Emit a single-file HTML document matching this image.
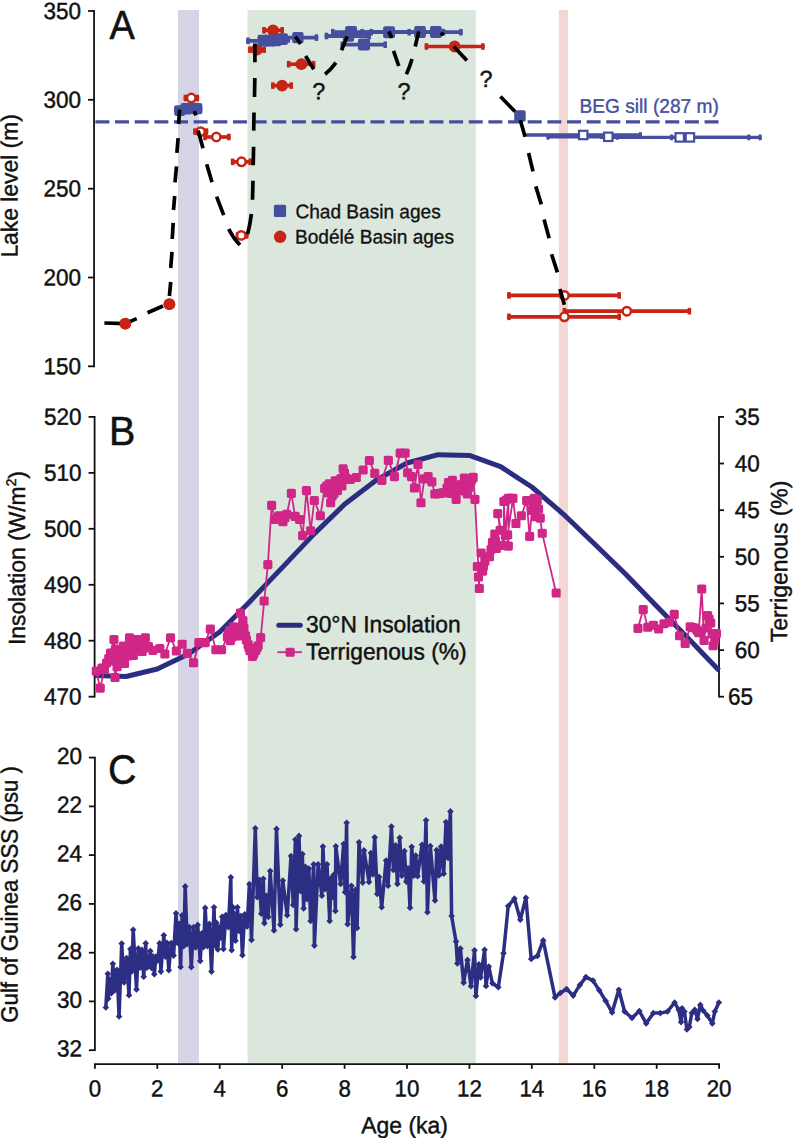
<!DOCTYPE html>
<html><head><meta charset="utf-8"><title>Lake Mega-Chad</title>
<style>html,body{margin:0;padding:0;background:#fff}svg{display:block}text{font-family:"Liberation Sans",Arial,sans-serif;fill:#111;stroke:#111}</style></head><body>
<svg width="793" height="1138" viewBox="0 0 793 1138">
<rect width="793" height="1138" fill="#fff"/>
<rect x="178" y="10" width="21" height="1053.5" fill="#d5d5e6"/>
<rect x="247.5" y="10" width="228.3" height="1053.5" fill="#dbe7dc"/>
<rect x="558.8" y="10" width="9.200000000000045" height="1053.5" fill="#f4d6d5"/>
<path d="M94.05 10.1V367.2" stroke="#111" stroke-width="1.8" fill="none"/>
<path d="M88.05 11.0H94.05" stroke="#111" stroke-width="1.8" fill="none"/>
<text transform="translate(43.52 18.90) rotate(0.03) scale(0.2340)" font-size="100" stroke-width="1.92" textLength="160.4" lengthAdjust="spacingAndGlyphs">350</text>
<path d="M88.05 99.8H94.05" stroke="#111" stroke-width="1.8" fill="none"/>
<text transform="translate(43.52 107.73) rotate(0.03) scale(0.2340)" font-size="100" stroke-width="1.92" textLength="160.4" lengthAdjust="spacingAndGlyphs">300</text>
<path d="M88.05 188.7H94.05" stroke="#111" stroke-width="1.8" fill="none"/>
<text transform="translate(43.52 196.55) rotate(0.03) scale(0.2340)" font-size="100" stroke-width="1.92" textLength="160.4" lengthAdjust="spacingAndGlyphs">250</text>
<path d="M88.05 277.5H94.05" stroke="#111" stroke-width="1.8" fill="none"/>
<text transform="translate(43.52 285.38) rotate(0.03) scale(0.2340)" font-size="100" stroke-width="1.92" textLength="160.4" lengthAdjust="spacingAndGlyphs">200</text>
<path d="M88.05 366.3H94.05" stroke="#111" stroke-width="1.8" fill="none"/>
<text transform="translate(43.52 374.20) rotate(0.03) scale(0.2340)" font-size="100" stroke-width="1.92" textLength="160.4" lengthAdjust="spacingAndGlyphs">150</text>
<path d="M94.6 416.0V697.6" stroke="#111" stroke-width="1.8" fill="none"/>
<path d="M88.6 416.9H94.6" stroke="#111" stroke-width="1.8" fill="none"/>
<text transform="translate(44.07 424.80) rotate(0.03) scale(0.2340)" font-size="100" stroke-width="1.92" textLength="160.4" lengthAdjust="spacingAndGlyphs">520</text>
<path d="M88.6 472.9H94.6" stroke="#111" stroke-width="1.8" fill="none"/>
<text transform="translate(44.07 480.76) rotate(0.03) scale(0.2340)" font-size="100" stroke-width="1.92" textLength="160.4" lengthAdjust="spacingAndGlyphs">510</text>
<path d="M88.6 528.8H94.6" stroke="#111" stroke-width="1.8" fill="none"/>
<text transform="translate(44.07 536.72) rotate(0.03) scale(0.2340)" font-size="100" stroke-width="1.92" textLength="160.4" lengthAdjust="spacingAndGlyphs">500</text>
<path d="M88.6 584.8H94.6" stroke="#111" stroke-width="1.8" fill="none"/>
<text transform="translate(44.07 592.68) rotate(0.03) scale(0.2340)" font-size="100" stroke-width="1.92" textLength="160.4" lengthAdjust="spacingAndGlyphs">490</text>
<path d="M88.6 640.7H94.6" stroke="#111" stroke-width="1.8" fill="none"/>
<text transform="translate(44.07 648.64) rotate(0.03) scale(0.2340)" font-size="100" stroke-width="1.92" textLength="160.4" lengthAdjust="spacingAndGlyphs">480</text>
<path d="M88.6 696.7H94.6" stroke="#111" stroke-width="1.8" fill="none"/>
<text transform="translate(44.07 704.60) rotate(0.03) scale(0.2340)" font-size="100" stroke-width="1.92" textLength="160.4" lengthAdjust="spacingAndGlyphs">470</text>
<path d="M719 416.0V697.6" stroke="#111" stroke-width="1.8" fill="none"/>
<path d="M719 416.9H724" stroke="#111" stroke-width="1.8" fill="none"/>
<text transform="translate(734.80 424.80) rotate(0.03) scale(0.2340)" font-size="100" stroke-width="1.92" textLength="106.9" lengthAdjust="spacingAndGlyphs">35</text>
<path d="M719 463.5H724" stroke="#111" stroke-width="1.8" fill="none"/>
<text transform="translate(734.80 471.43) rotate(0.03) scale(0.2340)" font-size="100" stroke-width="1.92" textLength="106.9" lengthAdjust="spacingAndGlyphs">40</text>
<path d="M719 510.2H724" stroke="#111" stroke-width="1.8" fill="none"/>
<text transform="translate(734.80 518.07) rotate(0.03) scale(0.2340)" font-size="100" stroke-width="1.92" textLength="106.9" lengthAdjust="spacingAndGlyphs">45</text>
<path d="M719 556.8H724" stroke="#111" stroke-width="1.8" fill="none"/>
<text transform="translate(734.80 564.70) rotate(0.03) scale(0.2340)" font-size="100" stroke-width="1.92" textLength="106.9" lengthAdjust="spacingAndGlyphs">50</text>
<path d="M719 603.4H724" stroke="#111" stroke-width="1.8" fill="none"/>
<text transform="translate(734.80 611.33) rotate(0.03) scale(0.2340)" font-size="100" stroke-width="1.92" textLength="106.9" lengthAdjust="spacingAndGlyphs">55</text>
<path d="M719 650.1H724" stroke="#111" stroke-width="1.8" fill="none"/>
<text transform="translate(734.80 657.97) rotate(0.03) scale(0.2340)" font-size="100" stroke-width="1.92" textLength="106.9" lengthAdjust="spacingAndGlyphs">60</text>
<path d="M719 696.7H724" stroke="#111" stroke-width="1.8" fill="none"/>
<text transform="translate(727.90 704.60) rotate(0.03) scale(0.2340)" font-size="100" stroke-width="1.92" textLength="106.9" lengthAdjust="spacingAndGlyphs">65</text>
<path d="M94.9 756.7V1051.1000000000001" stroke="#111" stroke-width="1.8" fill="none"/>
<path d="M88.9 757.6H94.9" stroke="#111" stroke-width="1.8" fill="none"/>
<text transform="translate(56.88 764.00) rotate(0.03) scale(0.2340)" font-size="100" stroke-width="1.92" textLength="106.9" lengthAdjust="spacingAndGlyphs">20</text>
<path d="M88.9 806.4H94.9" stroke="#111" stroke-width="1.8" fill="none"/>
<text transform="translate(56.88 812.77) rotate(0.03) scale(0.2340)" font-size="100" stroke-width="1.92" textLength="106.9" lengthAdjust="spacingAndGlyphs">22</text>
<path d="M88.9 855.1H94.9" stroke="#111" stroke-width="1.8" fill="none"/>
<text transform="translate(56.88 861.53) rotate(0.03) scale(0.2340)" font-size="100" stroke-width="1.92" textLength="106.9" lengthAdjust="spacingAndGlyphs">24</text>
<path d="M88.9 903.9H94.9" stroke="#111" stroke-width="1.8" fill="none"/>
<text transform="translate(56.88 910.30) rotate(0.03) scale(0.2340)" font-size="100" stroke-width="1.92" textLength="106.9" lengthAdjust="spacingAndGlyphs">26</text>
<path d="M88.9 952.7H94.9" stroke="#111" stroke-width="1.8" fill="none"/>
<text transform="translate(56.88 959.07) rotate(0.03) scale(0.2340)" font-size="100" stroke-width="1.92" textLength="106.9" lengthAdjust="spacingAndGlyphs">28</text>
<path d="M88.9 1001.4H94.9" stroke="#111" stroke-width="1.8" fill="none"/>
<text transform="translate(56.88 1007.83) rotate(0.03) scale(0.2340)" font-size="100" stroke-width="1.92" textLength="106.9" lengthAdjust="spacingAndGlyphs">30</text>
<path d="M88.9 1050.2H94.9" stroke="#111" stroke-width="1.8" fill="none"/>
<text transform="translate(56.88 1056.60) rotate(0.03) scale(0.2340)" font-size="100" stroke-width="1.92" textLength="106.9" lengthAdjust="spacingAndGlyphs">32</text>
<path d="M94.0 1064.1H720.0" stroke="#111" stroke-width="1.8" fill="none"/>
<path d="M94.9 1064.1V1068.8" stroke="#111" stroke-width="1.8" fill="none"/>
<text transform="translate(88.70 1096.40) rotate(0.03) scale(0.2340)" font-size="100" stroke-width="1.92" textLength="53.0" lengthAdjust="spacingAndGlyphs">0</text>
<path d="M157.3 1064.1V1068.8" stroke="#111" stroke-width="1.8" fill="none"/>
<text transform="translate(151.12 1096.40) rotate(0.03) scale(0.2340)" font-size="100" stroke-width="1.92" textLength="53.0" lengthAdjust="spacingAndGlyphs">2</text>
<path d="M219.7 1064.1V1068.8" stroke="#111" stroke-width="1.8" fill="none"/>
<text transform="translate(213.54 1096.40) rotate(0.03) scale(0.2340)" font-size="100" stroke-width="1.92" textLength="53.0" lengthAdjust="spacingAndGlyphs">4</text>
<path d="M282.2 1064.1V1068.8" stroke="#111" stroke-width="1.8" fill="none"/>
<text transform="translate(275.96 1096.40) rotate(0.03) scale(0.2340)" font-size="100" stroke-width="1.92" textLength="53.0" lengthAdjust="spacingAndGlyphs">6</text>
<path d="M344.6 1064.1V1068.8" stroke="#111" stroke-width="1.8" fill="none"/>
<text transform="translate(338.38 1096.40) rotate(0.03) scale(0.2340)" font-size="100" stroke-width="1.92" textLength="53.0" lengthAdjust="spacingAndGlyphs">8</text>
<path d="M407.0 1064.1V1068.8" stroke="#111" stroke-width="1.8" fill="none"/>
<text transform="translate(394.60 1096.40) rotate(0.03) scale(0.2340)" font-size="100" stroke-width="1.92" textLength="106.0" lengthAdjust="spacingAndGlyphs">10</text>
<path d="M469.4 1064.1V1068.8" stroke="#111" stroke-width="1.8" fill="none"/>
<text transform="translate(457.02 1096.40) rotate(0.03) scale(0.2340)" font-size="100" stroke-width="1.92" textLength="106.0" lengthAdjust="spacingAndGlyphs">12</text>
<path d="M531.8 1064.1V1068.8" stroke="#111" stroke-width="1.8" fill="none"/>
<text transform="translate(519.44 1096.40) rotate(0.03) scale(0.2340)" font-size="100" stroke-width="1.92" textLength="106.0" lengthAdjust="spacingAndGlyphs">14</text>
<path d="M594.3 1064.1V1068.8" stroke="#111" stroke-width="1.8" fill="none"/>
<text transform="translate(581.86 1096.40) rotate(0.03) scale(0.2340)" font-size="100" stroke-width="1.92" textLength="106.0" lengthAdjust="spacingAndGlyphs">16</text>
<path d="M656.7 1064.1V1068.8" stroke="#111" stroke-width="1.8" fill="none"/>
<text transform="translate(644.28 1096.40) rotate(0.03) scale(0.2340)" font-size="100" stroke-width="1.92" textLength="106.0" lengthAdjust="spacingAndGlyphs">18</text>
<path d="M719.1 1064.1V1068.8" stroke="#111" stroke-width="1.8" fill="none"/>
<text transform="translate(706.70 1096.40) rotate(0.03) scale(0.2340)" font-size="100" stroke-width="1.92" textLength="106.0" lengthAdjust="spacingAndGlyphs">20</text>
<text transform="translate(361.30 1133.30) rotate(0.03) scale(0.2340)" font-size="100" stroke-width="1.92" textLength="370.1" lengthAdjust="spacingAndGlyphs">Age (ka)</text>
<text transform="translate(17.40 257.60) rotate(-89.97) scale(0.2340)" font-size="100" stroke-width="1.92" textLength="612.8" lengthAdjust="spacingAndGlyphs">Lake level (m)</text>
<text transform="translate(24.90 645.10) rotate(-89.97) scale(0.2340)" font-size="100" stroke-width="1.92" textLength="743.6" lengthAdjust="spacingAndGlyphs">Insolation (W/m<tspan font-size="60" dy="-38">2</tspan><tspan dy="38">)</tspan></text>
<text transform="translate(17.40 1022.70) rotate(-89.97) scale(0.2340)" font-size="100" stroke-width="1.92" textLength="1096.6" lengthAdjust="spacingAndGlyphs">Gulf of Guinea SSS (psu )</text>
<text transform="translate(787.10 642.30) rotate(-89.97) scale(0.2340)" font-size="100" stroke-width="1.92" textLength="690.6" lengthAdjust="spacingAndGlyphs">Terrigenous (%)</text>
<text transform="translate(109.60 38.80) rotate(0.03) scale(0.4080)" font-size="100" stroke-width="1.35" textLength="62.0" lengthAdjust="spacingAndGlyphs">A</text>
<text transform="translate(108.90 444.90) rotate(0.03) scale(0.4080)" font-size="100" stroke-width="1.35" textLength="64.5" lengthAdjust="spacingAndGlyphs">B</text>
<text transform="translate(107.90 783.50) rotate(0.03) scale(0.4080)" font-size="100" stroke-width="1.35" textLength="69.6" lengthAdjust="spacingAndGlyphs">C</text>
<polyline points="94.9,675.5 126.1,676.5 157.3,669.0 188.5,654.0 219.7,632.0 251.0,600.4 282.2,567.6 313.4,534.6 344.6,504.3 375.8,480.4 407.0,463.0 438.2,454.7 469.4,455.4 500.6,466.6 531.8,487.0 563.0,513.8 594.3,543.8 625.5,574.0 656.7,606.3 687.9,638.0 719.1,670.6" fill="none" stroke="#2b2e80" stroke-width="5" stroke-linejoin="round"/>
<polyline points="96.2,671.1 100.2,688.1 104.4,669.2 108.8,658.5 113.9,639.5 115.1,677.4 117.0,666.7 118.9,657.8 120.2,649.6 124.6,663.5 125.8,654.0 129.6,637.7 131.5,646.5 133.4,655.3 136.5,639.5 138.4,648.4 142.2,651.5 145.4,637.7 148.5,646.5 152.9,650.3 159.9,648.4 164.9,654.0 170.6,637.7 176.3,650.9 182.2,644.2 187.3,653.3 193.6,662.8 198.9,642.6 205.2,642.6 210.3,629.1 215.9,649.8 221.6,649.8 227.3,636.9 229.8,630.6 230.4,640.7 233.6,626.8 235.5,635.7 238.0,630.6 240.5,613.0 243.0,620.5 241.8,631.9 245.6,635.7 248.1,644.5 250.0,650.8 252.5,656.5 255.7,650.8 258.2,645.7 260.7,637.6 264.2,601.0 267.9,564.6 271.6,505.4 274.7,519.4 279.2,515.7 283.0,521.7 286.8,514.2 291.3,493.3 295.1,516.4 299.6,519.4 302.7,535.6 306.5,490.7 310.7,530.8 314.3,500.5 320.4,515.7 324.6,488.4 329.2,483.9 330.7,502.8 332.2,496.0 335.2,480.9 337.5,490.7 339.7,485.4 343.2,468.8 345.8,477.8 350.3,479.3 356.4,477.5 363.1,470.0 369.3,460.5 374.8,473.4 381.9,480.4 388.3,460.3 394.5,476.6 400.1,453.2 405.1,453.2 407.7,472.8 411.5,476.6 414.5,488.0 418.0,464.5 421.0,502.8 424.3,478.9 428.1,476.6 431.9,481.9 434.9,494.0 440.2,493.3 445.5,492.5 448.5,482.7 450.8,493.3 452.3,480.4 456.1,499.3 456.9,484.9 460.6,491.0 464.4,478.1 467.4,494.0 470.5,481.9 473.1,477.3 475.0,499.3 479.4,588.5 477.4,566.5 482.7,571.1 481.2,552.9 485.0,561.2 489.5,556.7 492.5,542.3 496.3,548.4 494.8,534.0 500.1,530.2 497.8,513.6 503.9,545.3 503.9,501.5 505.4,535.5 508.4,498.4 508.4,546.1 507.7,534.7 513.0,498.4 516.0,523.4 521.3,515.8 526.6,500.7 529.6,536.3 531.9,510.5 534.2,498.4 537.2,499.9 535.7,516.6 540.2,518.1 542.2,533.2 556.1,593.0" fill="none" stroke="#cf2688" stroke-width="1.8" stroke-linejoin="round"/>
<polyline points="637.9,628.3 643.2,609.6 647.7,627.2 653.3,625.2 658.6,629.0 663.9,623.7 669.2,622.2 674.2,614.3 679.5,635.8 685.1,643.4 690.1,626.7 695.7,628.3 698.7,632.8 701.7,588.9 704.0,640.4 707.5,615.4 710.8,623.0 713.1,645.7 716.4,633.6" fill="none" stroke="#cf2688" stroke-width="1.8" stroke-linejoin="round"/>
<g fill="#cf2688">
<rect x="91.7" y="666.6" width="9.1" height="9.1" rx="1.6"/>
<rect x="95.7" y="683.6" width="9.1" height="9.1" rx="1.6"/>
<rect x="99.9" y="664.7" width="9.1" height="9.1" rx="1.6"/>
<rect x="104.2" y="654.0" width="9.1" height="9.1" rx="1.6"/>
<rect x="109.4" y="635.0" width="9.1" height="9.1" rx="1.6"/>
<rect x="110.5" y="672.9" width="9.1" height="9.1" rx="1.6"/>
<rect x="112.5" y="662.2" width="9.1" height="9.1" rx="1.6"/>
<rect x="114.4" y="653.2" width="9.1" height="9.1" rx="1.6"/>
<rect x="115.7" y="645.1" width="9.1" height="9.1" rx="1.6"/>
<rect x="120.0" y="659.0" width="9.1" height="9.1" rx="1.6"/>
<rect x="121.2" y="649.5" width="9.1" height="9.1" rx="1.6"/>
<rect x="125.0" y="633.2" width="9.1" height="9.1" rx="1.6"/>
<rect x="127.0" y="642.0" width="9.1" height="9.1" rx="1.6"/>
<rect x="128.8" y="650.8" width="9.1" height="9.1" rx="1.6"/>
<rect x="131.9" y="635.0" width="9.1" height="9.1" rx="1.6"/>
<rect x="133.8" y="643.9" width="9.1" height="9.1" rx="1.6"/>
<rect x="137.6" y="647.0" width="9.1" height="9.1" rx="1.6"/>
<rect x="140.8" y="633.2" width="9.1" height="9.1" rx="1.6"/>
<rect x="143.9" y="642.0" width="9.1" height="9.1" rx="1.6"/>
<rect x="148.3" y="645.8" width="9.1" height="9.1" rx="1.6"/>
<rect x="155.3" y="643.9" width="9.1" height="9.1" rx="1.6"/>
<rect x="160.3" y="649.5" width="9.1" height="9.1" rx="1.6"/>
<rect x="166.0" y="633.2" width="9.1" height="9.1" rx="1.6"/>
<rect x="171.8" y="646.4" width="9.1" height="9.1" rx="1.6"/>
<rect x="177.6" y="639.7" width="9.1" height="9.1" rx="1.6"/>
<rect x="182.8" y="648.8" width="9.1" height="9.1" rx="1.6"/>
<rect x="189.0" y="658.2" width="9.1" height="9.1" rx="1.6"/>
<rect x="194.3" y="638.1" width="9.1" height="9.1" rx="1.6"/>
<rect x="200.6" y="638.1" width="9.1" height="9.1" rx="1.6"/>
<rect x="205.8" y="624.6" width="9.1" height="9.1" rx="1.6"/>
<rect x="211.3" y="645.2" width="9.1" height="9.1" rx="1.6"/>
<rect x="217.0" y="645.2" width="9.1" height="9.1" rx="1.6"/>
<rect x="222.8" y="632.4" width="9.1" height="9.1" rx="1.6"/>
<rect x="225.2" y="626.1" width="9.1" height="9.1" rx="1.6"/>
<rect x="225.8" y="636.2" width="9.1" height="9.1" rx="1.6"/>
<rect x="229.0" y="622.2" width="9.1" height="9.1" rx="1.6"/>
<rect x="230.9" y="631.2" width="9.1" height="9.1" rx="1.6"/>
<rect x="233.4" y="626.1" width="9.1" height="9.1" rx="1.6"/>
<rect x="235.9" y="608.5" width="9.1" height="9.1" rx="1.6"/>
<rect x="238.4" y="616.0" width="9.1" height="9.1" rx="1.6"/>
<rect x="237.2" y="627.4" width="9.1" height="9.1" rx="1.6"/>
<rect x="241.0" y="631.2" width="9.1" height="9.1" rx="1.6"/>
<rect x="243.5" y="640.0" width="9.1" height="9.1" rx="1.6"/>
<rect x="245.4" y="646.2" width="9.1" height="9.1" rx="1.6"/>
<rect x="247.9" y="652.0" width="9.1" height="9.1" rx="1.6"/>
<rect x="251.1" y="646.2" width="9.1" height="9.1" rx="1.6"/>
<rect x="253.6" y="641.2" width="9.1" height="9.1" rx="1.6"/>
<rect x="256.1" y="633.1" width="9.1" height="9.1" rx="1.6"/>
<rect x="259.6" y="596.5" width="9.1" height="9.1" rx="1.6"/>
<rect x="263.3" y="560.1" width="9.1" height="9.1" rx="1.6"/>
<rect x="267.1" y="500.8" width="9.1" height="9.1" rx="1.6"/>
<rect x="270.1" y="514.9" width="9.1" height="9.1" rx="1.6"/>
<rect x="274.6" y="511.2" width="9.1" height="9.1" rx="1.6"/>
<rect x="278.4" y="517.2" width="9.1" height="9.1" rx="1.6"/>
<rect x="282.2" y="509.7" width="9.1" height="9.1" rx="1.6"/>
<rect x="286.8" y="488.8" width="9.1" height="9.1" rx="1.6"/>
<rect x="290.6" y="511.8" width="9.1" height="9.1" rx="1.6"/>
<rect x="295.1" y="514.9" width="9.1" height="9.1" rx="1.6"/>
<rect x="298.1" y="531.1" width="9.1" height="9.1" rx="1.6"/>
<rect x="301.9" y="486.1" width="9.1" height="9.1" rx="1.6"/>
<rect x="306.1" y="526.2" width="9.1" height="9.1" rx="1.6"/>
<rect x="309.8" y="495.9" width="9.1" height="9.1" rx="1.6"/>
<rect x="315.8" y="511.2" width="9.1" height="9.1" rx="1.6"/>
<rect x="320.1" y="483.8" width="9.1" height="9.1" rx="1.6"/>
<rect x="324.6" y="479.3" width="9.1" height="9.1" rx="1.6"/>
<rect x="326.1" y="498.2" width="9.1" height="9.1" rx="1.6"/>
<rect x="327.6" y="491.4" width="9.1" height="9.1" rx="1.6"/>
<rect x="330.6" y="476.3" width="9.1" height="9.1" rx="1.6"/>
<rect x="332.9" y="486.1" width="9.1" height="9.1" rx="1.6"/>
<rect x="335.1" y="480.8" width="9.1" height="9.1" rx="1.6"/>
<rect x="338.6" y="464.2" width="9.1" height="9.1" rx="1.6"/>
<rect x="341.2" y="473.2" width="9.1" height="9.1" rx="1.6"/>
<rect x="345.8" y="474.8" width="9.1" height="9.1" rx="1.6"/>
<rect x="351.8" y="472.9" width="9.1" height="9.1" rx="1.6"/>
<rect x="358.6" y="465.4" width="9.1" height="9.1" rx="1.6"/>
<rect x="364.8" y="455.9" width="9.1" height="9.1" rx="1.6"/>
<rect x="370.2" y="468.8" width="9.1" height="9.1" rx="1.6"/>
<rect x="377.3" y="475.8" width="9.1" height="9.1" rx="1.6"/>
<rect x="383.8" y="455.8" width="9.1" height="9.1" rx="1.6"/>
<rect x="389.9" y="472.1" width="9.1" height="9.1" rx="1.6"/>
<rect x="395.6" y="448.6" width="9.1" height="9.1" rx="1.6"/>
<rect x="400.6" y="448.6" width="9.1" height="9.1" rx="1.6"/>
<rect x="403.1" y="468.2" width="9.1" height="9.1" rx="1.6"/>
<rect x="406.9" y="472.1" width="9.1" height="9.1" rx="1.6"/>
<rect x="409.9" y="483.4" width="9.1" height="9.1" rx="1.6"/>
<rect x="413.4" y="459.9" width="9.1" height="9.1" rx="1.6"/>
<rect x="416.4" y="498.2" width="9.1" height="9.1" rx="1.6"/>
<rect x="419.8" y="474.3" width="9.1" height="9.1" rx="1.6"/>
<rect x="423.6" y="472.1" width="9.1" height="9.1" rx="1.6"/>
<rect x="427.3" y="477.3" width="9.1" height="9.1" rx="1.6"/>
<rect x="430.3" y="489.4" width="9.1" height="9.1" rx="1.6"/>
<rect x="435.6" y="488.8" width="9.1" height="9.1" rx="1.6"/>
<rect x="440.9" y="487.9" width="9.1" height="9.1" rx="1.6"/>
<rect x="443.9" y="478.1" width="9.1" height="9.1" rx="1.6"/>
<rect x="446.2" y="488.8" width="9.1" height="9.1" rx="1.6"/>
<rect x="447.8" y="475.8" width="9.1" height="9.1" rx="1.6"/>
<rect x="451.6" y="494.8" width="9.1" height="9.1" rx="1.6"/>
<rect x="452.3" y="480.3" width="9.1" height="9.1" rx="1.6"/>
<rect x="456.1" y="486.4" width="9.1" height="9.1" rx="1.6"/>
<rect x="459.8" y="473.6" width="9.1" height="9.1" rx="1.6"/>
<rect x="462.8" y="489.4" width="9.1" height="9.1" rx="1.6"/>
<rect x="465.9" y="477.3" width="9.1" height="9.1" rx="1.6"/>
<rect x="468.6" y="472.8" width="9.1" height="9.1" rx="1.6"/>
<rect x="470.4" y="494.8" width="9.1" height="9.1" rx="1.6"/>
<rect x="474.8" y="584.0" width="9.1" height="9.1" rx="1.6"/>
<rect x="472.8" y="562.0" width="9.1" height="9.1" rx="1.6"/>
<rect x="478.1" y="566.6" width="9.1" height="9.1" rx="1.6"/>
<rect x="476.6" y="548.4" width="9.1" height="9.1" rx="1.6"/>
<rect x="480.4" y="556.7" width="9.1" height="9.1" rx="1.6"/>
<rect x="484.9" y="552.2" width="9.1" height="9.1" rx="1.6"/>
<rect x="487.9" y="537.8" width="9.1" height="9.1" rx="1.6"/>
<rect x="491.8" y="543.9" width="9.1" height="9.1" rx="1.6"/>
<rect x="490.2" y="529.5" width="9.1" height="9.1" rx="1.6"/>
<rect x="495.6" y="525.7" width="9.1" height="9.1" rx="1.6"/>
<rect x="493.2" y="509.1" width="9.1" height="9.1" rx="1.6"/>
<rect x="499.3" y="540.8" width="9.1" height="9.1" rx="1.6"/>
<rect x="499.3" y="496.9" width="9.1" height="9.1" rx="1.6"/>
<rect x="500.8" y="531.0" width="9.1" height="9.1" rx="1.6"/>
<rect x="503.8" y="493.8" width="9.1" height="9.1" rx="1.6"/>
<rect x="503.8" y="541.6" width="9.1" height="9.1" rx="1.6"/>
<rect x="503.1" y="530.2" width="9.1" height="9.1" rx="1.6"/>
<rect x="508.4" y="493.8" width="9.1" height="9.1" rx="1.6"/>
<rect x="511.4" y="518.9" width="9.1" height="9.1" rx="1.6"/>
<rect x="516.8" y="511.2" width="9.1" height="9.1" rx="1.6"/>
<rect x="522.1" y="496.1" width="9.1" height="9.1" rx="1.6"/>
<rect x="525.1" y="531.8" width="9.1" height="9.1" rx="1.6"/>
<rect x="527.4" y="505.9" width="9.1" height="9.1" rx="1.6"/>
<rect x="529.7" y="493.8" width="9.1" height="9.1" rx="1.6"/>
<rect x="532.7" y="495.3" width="9.1" height="9.1" rx="1.6"/>
<rect x="531.2" y="512.1" width="9.1" height="9.1" rx="1.6"/>
<rect x="535.7" y="513.6" width="9.1" height="9.1" rx="1.6"/>
<rect x="537.7" y="528.7" width="9.1" height="9.1" rx="1.6"/>
<rect x="551.6" y="588.5" width="9.1" height="9.1" rx="1.6"/>
<rect x="633.4" y="623.8" width="9.1" height="9.1" rx="1.6"/>
<rect x="638.7" y="605.1" width="9.1" height="9.1" rx="1.6"/>
<rect x="643.2" y="622.7" width="9.1" height="9.1" rx="1.6"/>
<rect x="648.8" y="620.7" width="9.1" height="9.1" rx="1.6"/>
<rect x="654.1" y="624.5" width="9.1" height="9.1" rx="1.6"/>
<rect x="659.4" y="619.2" width="9.1" height="9.1" rx="1.6"/>
<rect x="664.7" y="617.7" width="9.1" height="9.1" rx="1.6"/>
<rect x="669.7" y="609.8" width="9.1" height="9.1" rx="1.6"/>
<rect x="675.0" y="631.2" width="9.1" height="9.1" rx="1.6"/>
<rect x="680.6" y="638.9" width="9.1" height="9.1" rx="1.6"/>
<rect x="685.6" y="622.2" width="9.1" height="9.1" rx="1.6"/>
<rect x="691.2" y="623.8" width="9.1" height="9.1" rx="1.6"/>
<rect x="694.2" y="628.2" width="9.1" height="9.1" rx="1.6"/>
<rect x="697.2" y="584.4" width="9.1" height="9.1" rx="1.6"/>
<rect x="699.5" y="635.9" width="9.1" height="9.1" rx="1.6"/>
<rect x="703.0" y="610.9" width="9.1" height="9.1" rx="1.6"/>
<rect x="706.2" y="618.5" width="9.1" height="9.1" rx="1.6"/>
<rect x="708.6" y="641.2" width="9.1" height="9.1" rx="1.6"/>
<rect x="711.9" y="629.1" width="9.1" height="9.1" rx="1.6"/>
<rect x="97.5" y="663.5" width="9.1" height="9.1" rx="1.6"/>
<rect x="102.0" y="658.5" width="9.1" height="9.1" rx="1.6"/>
<rect x="106.0" y="648.5" width="9.1" height="9.1" rx="1.6"/>
<rect x="107.5" y="656.5" width="9.1" height="9.1" rx="1.6"/>
<rect x="111.0" y="644.5" width="9.1" height="9.1" rx="1.6"/>
<rect x="115.0" y="656.5" width="9.1" height="9.1" rx="1.6"/>
<rect x="117.5" y="649.5" width="9.1" height="9.1" rx="1.6"/>
<rect x="119.0" y="641.5" width="9.1" height="9.1" rx="1.6"/>
<rect x="122.5" y="642.5" width="9.1" height="9.1" rx="1.6"/>
<rect x="123.5" y="651.5" width="9.1" height="9.1" rx="1.6"/>
<rect x="126.5" y="636.5" width="9.1" height="9.1" rx="1.6"/>
<rect x="129.9" y="643.5" width="9.1" height="9.1" rx="1.6"/>
<rect x="134.9" y="639.5" width="9.1" height="9.1" rx="1.6"/>
<rect x="136.4" y="635.5" width="9.1" height="9.1" rx="1.6"/>
<rect x="139.4" y="643.5" width="9.1" height="9.1" rx="1.6"/>
<rect x="223.9" y="629.5" width="9.1" height="9.1" rx="1.6"/>
<rect x="227.4" y="632.5" width="9.1" height="9.1" rx="1.6"/>
<rect x="229.9" y="626.5" width="9.1" height="9.1" rx="1.6"/>
<rect x="231.9" y="623.5" width="9.1" height="9.1" rx="1.6"/>
<rect x="234.4" y="631.5" width="9.1" height="9.1" rx="1.6"/>
<rect x="239.4" y="623.5" width="9.1" height="9.1" rx="1.6"/>
<rect x="241.9" y="635.5" width="9.1" height="9.1" rx="1.6"/>
<rect x="244.4" y="643.0" width="9.1" height="9.1" rx="1.6"/>
<rect x="249.2" y="649.5" width="9.1" height="9.1" rx="1.6"/>
<rect x="252.4" y="643.5" width="9.1" height="9.1" rx="1.6"/>
<rect x="272.4" y="513.0" width="9.1" height="9.1" rx="1.6"/>
<rect x="276.6" y="514.2" width="9.1" height="9.1" rx="1.6"/>
<rect x="280.4" y="513.2" width="9.1" height="9.1" rx="1.6"/>
<rect x="322.2" y="481.4" width="9.1" height="9.1" rx="1.6"/>
<rect x="323.4" y="488.4" width="9.1" height="9.1" rx="1.6"/>
<rect x="326.9" y="484.4" width="9.1" height="9.1" rx="1.6"/>
<rect x="329.2" y="481.4" width="9.1" height="9.1" rx="1.6"/>
<rect x="329.4" y="488.9" width="9.1" height="9.1" rx="1.6"/>
<rect x="331.9" y="480.4" width="9.1" height="9.1" rx="1.6"/>
<rect x="333.9" y="476.4" width="9.1" height="9.1" rx="1.6"/>
<rect x="336.4" y="473.9" width="9.1" height="9.1" rx="1.6"/>
<rect x="337.4" y="481.4" width="9.1" height="9.1" rx="1.6"/>
<rect x="339.9" y="468.4" width="9.1" height="9.1" rx="1.6"/>
<rect x="432.9" y="489.1" width="9.1" height="9.1" rx="1.6"/>
<rect x="438.2" y="488.3" width="9.1" height="9.1" rx="1.6"/>
<rect x="442.4" y="483.4" width="9.1" height="9.1" rx="1.6"/>
<rect x="445.1" y="482.9" width="9.1" height="9.1" rx="1.6"/>
<rect x="448.9" y="482.4" width="9.1" height="9.1" rx="1.6"/>
<rect x="449.9" y="488.4" width="9.1" height="9.1" rx="1.6"/>
<rect x="453.9" y="483.4" width="9.1" height="9.1" rx="1.6"/>
<rect x="457.9" y="479.9" width="9.1" height="9.1" rx="1.6"/>
<rect x="461.2" y="481.4" width="9.1" height="9.1" rx="1.6"/>
<rect x="464.2" y="482.9" width="9.1" height="9.1" rx="1.6"/>
<rect x="467.2" y="474.9" width="9.1" height="9.1" rx="1.6"/>
<rect x="473.9" y="572.5" width="9.1" height="9.1" rx="1.6"/>
<rect x="478.9" y="561.5" width="9.1" height="9.1" rx="1.6"/>
<rect x="486.4" y="545.0" width="9.1" height="9.1" rx="1.6"/>
<rect x="490.9" y="536.5" width="9.1" height="9.1" rx="1.6"/>
<rect x="501.9" y="495.4" width="9.1" height="9.1" rx="1.6"/>
<rect x="505.9" y="493.8" width="9.1" height="9.1" rx="1.6"/>
<rect x="528.5" y="499.4" width="9.1" height="9.1" rx="1.6"/>
<rect x="532.0" y="503.4" width="9.1" height="9.1" rx="1.6"/>
<rect x="534.0" y="504.4" width="9.1" height="9.1" rx="1.6"/>
<rect x="688.5" y="623.0" width="9.1" height="9.1" rx="1.6"/>
<rect x="692.7" y="626.0" width="9.1" height="9.1" rx="1.6"/>
<rect x="701.5" y="623.5" width="9.1" height="9.1" rx="1.6"/>
<rect x="704.5" y="614.5" width="9.1" height="9.1" rx="1.6"/>
<rect x="707.5" y="629.5" width="9.1" height="9.1" rx="1.6"/>
<rect x="710.2" y="635.5" width="9.1" height="9.1" rx="1.6"/>
</g>
<path d="M278.8 625.2H300.3" stroke="#2b2e80" stroke-width="5" fill="none" stroke-linecap="round"/>
<path d="M277.4 652.2H302" stroke="#cf2688" stroke-width="1.8" fill="none"/>
<rect x="285.6" y="647.7" width="9.1" height="9.1" rx="1.6" fill="#cf2688"/>
<text transform="translate(306.00 632.30) rotate(0.03) scale(0.2340)" font-size="100" stroke-width="1.92" textLength="660.7" lengthAdjust="spacingAndGlyphs">30°N Insolation</text>
<text transform="translate(306.00 659.40) rotate(0.03) scale(0.2340)" font-size="100" stroke-width="1.92" textLength="686.3" lengthAdjust="spacingAndGlyphs">Terrigenous (%)</text>
<polyline points="105.8,1007.5 107.8,973.8 108.2,998.6 109.7,979.7 111.3,993.3 112.8,963.7 114.9,990.3 117.0,969.8 119.1,1016.4 121.7,943.6 124.1,982.5 126.6,958.0 129.0,995.3 130.4,949.1 131.8,971.4 133.2,929.8 136.5,989.4 138.3,948.4 140.1,967.6 141.9,949.9 143.7,976.8 145.7,943.2 146.8,967.8 148.0,956.7 149.2,964.5 150.3,951.1 151.6,968.0 153.0,956.4 154.3,974.2 156.1,956.5 157.8,960.5 159.6,943.2 160.9,971.6 163.8,935.3 165.5,956.8 167.1,942.9 168.8,970.3 171.2,943.1 173.6,955.6 176.0,913.2 177.5,942.9 179.1,923.7 180.6,967.0 182.1,915.3 183.7,946.2 185.2,886.4 187.2,943.9 189.3,927.1 191.3,967.1 193.4,927.2 195.6,947.4 197.7,924.9 200.2,960.9 201.9,933.2 203.5,947.1 205.2,907.9 207.3,946.1 209.4,923.9 211.5,971.6 214.0,907.3 215.3,945.4 216.5,922.9 217.8,949.5 219.3,927.2 220.7,937.7 222.2,916.7 223.5,948.9 225.9,915.1 228.4,927.2 230.8,877.3 231.7,950.2 232.6,906.9 233.6,928.3 234.6,914.3 235.5,940.7 237.4,907.3 239.1,931.0 240.7,916.0 242.4,955.2 244.7,914.3 247.1,926.5 249.4,884.0 251.5,940.0 255.3,828.3 257.3,897.2 259.3,879.8 261.3,913.8 263.3,878.8 264.4,923.3 266.3,895.8 268.3,917.0 270.2,871.0 274.0,930.5 276.5,828.9 280.3,924.8 282.8,880.6 287.2,915.3 291.0,856.0 293.2,904.9 295.4,839.6 296.1,929.2 299.0,835.9 300.7,891.3 302.4,854.1 303.6,908.4 305.4,866.7 307.1,899.1 308.9,868.6 310.6,921.0 313.7,864.2 314.4,945.6 318.1,864.2 321.9,895.8 322.9,846.6 324.9,889.2 327.0,864.2 329.7,921.0 331.1,878.0 332.5,897.0 334.0,874.5 335.4,911.0 335.8,846.3 340.7,883.9 343.6,844.0 345.1,892.2 346.6,822.7 347.6,924.2 351.4,885.8 353.5,957.0 355.3,889.9 357.1,928.0 359.0,842.2 362.7,882.6 364.0,850.4 369.0,882.0 370.9,853.0 372.8,874.5 374.7,837.2 377.2,894.0 379.1,876.9 381.7,907.2 386.1,860.5 388.0,885.8 391.4,826.5 393.4,870.0 395.5,845.4 397.4,883.9 399.7,837.8 401.8,875.7 404.4,851.1 406.3,881.6 408.1,868.2 410.0,907.8 411.7,846.7 413.7,875.7 415.7,855.5 417.6,876.3 422.0,844.8 424.0,881.5 426.0,820.2 427.4,912.3 430.3,846.0 435.0,900.5 436.7,850.1 438.9,875.4 441.1,846.6 443.7,873.8 446.0,822.0 448.1,858.0 450.4,811.4 451.6,916.0 456.0,941.5 457.4,963.4 460.4,948.5 463.6,982.8 467.5,959.9 471.0,986.3 474.5,950.3 475.9,996.0 478.9,964.3 480.6,977.5 484.6,949.8 486.0,986.0 488.8,966.5 492.4,983.3 498.3,987.3 503.5,953.3 508.2,906.1 514.4,898.5 520.3,919.7 525.9,897.7 531.2,958.9 537.4,955.9 543.2,940.4 555.0,997.4 560.3,993.0 566.5,989.1 573.2,995.6 579.8,985.1 585.9,977.1 593.0,980.6 599.2,990.3 605.7,1000.9 612.1,1012.5 618.8,989.8 624.6,1011.5 632.0,1018.0 639.3,1011.0 646.2,1023.4 653.3,1013.1 660.3,1013.1 667.5,1011.5 674.6,1002.5 678.7,1009.8 681.1,1022.1 682.0,1008.2 684.4,1011.5 686.9,1029.5 689.3,1027.0 691.8,1013.1 694.8,1009.8 697.5,1018.9 700.3,1004.9 703.3,1010.7 707.4,1015.6 712.3,1023.4 714.8,1011.5 718.9,1002.5" fill="none" stroke="#2c2e83" stroke-width="3.5" stroke-linejoin="round" stroke-linecap="round"/>
<path d="M102.5 1007.5L105.8 1004.2L109.1 1007.5L105.8 1010.8ZM104.5 973.8L107.8 970.5L111.1 973.8L107.8 977.1ZM104.9 998.6L108.2 995.3L111.5 998.6L108.2 1001.9ZM106.4 979.7L109.7 976.4L113.0 979.7L109.7 983.0ZM108.0 993.3L111.3 990.0L114.6 993.3L111.3 996.6ZM109.5 963.7L112.8 960.4L116.1 963.7L112.8 967.0ZM111.6 990.3L114.9 987.0L118.2 990.3L114.9 993.6ZM113.7 969.8L117.0 966.5L120.3 969.8L117.0 973.1ZM115.8 1016.4L119.1 1013.1L122.4 1016.4L119.1 1019.7ZM118.4 943.6L121.7 940.3L125.0 943.6L121.7 946.9ZM120.8 982.5L124.1 979.2L127.4 982.5L124.1 985.8ZM123.3 958.0L126.6 954.7L129.9 958.0L126.6 961.3ZM125.7 995.3L129.0 992.0L132.3 995.3L129.0 998.6ZM127.1 949.1L130.4 945.8L133.7 949.1L130.4 952.4ZM128.5 971.4L131.8 968.1L135.1 971.4L131.8 974.7ZM129.9 929.8L133.2 926.5L136.5 929.8L133.2 933.1ZM133.2 989.4L136.5 986.1L139.8 989.4L136.5 992.7ZM135.0 948.4L138.3 945.1L141.6 948.4L138.3 951.7ZM136.8 967.6L140.1 964.3L143.4 967.6L140.1 970.9ZM138.6 949.9L141.9 946.6L145.2 949.9L141.9 953.2ZM140.4 976.8L143.7 973.5L147.0 976.8L143.7 980.1ZM142.4 943.2L145.7 939.9L149.0 943.2L145.7 946.5ZM143.5 967.8L146.8 964.5L150.2 967.8L146.8 971.1ZM144.7 956.7L148.0 953.4L151.3 956.7L148.0 960.0ZM145.8 964.5L149.2 961.2L152.5 964.5L149.2 967.8ZM147.0 951.1L150.3 947.8L153.6 951.1L150.3 954.4ZM148.3 968.0L151.6 964.7L154.9 968.0L151.6 971.3ZM149.7 956.4L153.0 953.1L156.3 956.4L153.0 959.7ZM151.0 974.2L154.3 970.9L157.6 974.2L154.3 977.5ZM152.8 956.5L156.1 953.2L159.4 956.5L156.1 959.8ZM154.5 960.5L157.8 957.2L161.1 960.5L157.8 963.8ZM156.3 943.2L159.6 939.9L162.9 943.2L159.6 946.5ZM157.6 971.6L160.9 968.3L164.2 971.6L160.9 974.9ZM160.5 935.3L163.8 932.0L167.1 935.3L163.8 938.6ZM162.2 956.8L165.5 953.5L168.8 956.8L165.5 960.1ZM163.8 942.9L167.1 939.6L170.4 942.9L167.1 946.2ZM165.5 970.3L168.8 967.0L172.1 970.3L168.8 973.6ZM167.9 943.1L171.2 939.8L174.5 943.1L171.2 946.4ZM170.3 955.6L173.6 952.3L176.9 955.6L173.6 958.9ZM172.7 913.2L176.0 909.9L179.3 913.2L176.0 916.5ZM174.2 942.9L177.5 939.6L180.8 942.9L177.5 946.2ZM175.8 923.7L179.1 920.4L182.4 923.7L179.1 927.0ZM177.3 967.0L180.6 963.7L183.9 967.0L180.6 970.3ZM178.8 915.3L182.1 912.0L185.4 915.3L182.1 918.6ZM180.4 946.2L183.7 942.9L187.0 946.2L183.7 949.5ZM181.9 886.4L185.2 883.1L188.5 886.4L185.2 889.7ZM183.9 943.9L187.2 940.6L190.5 943.9L187.2 947.2ZM186.0 927.1L189.3 923.8L192.6 927.1L189.3 930.4ZM188.0 967.1L191.3 963.8L194.6 967.1L191.3 970.4ZM190.1 927.2L193.4 923.9L196.7 927.2L193.4 930.5ZM192.3 947.4L195.6 944.1L198.9 947.4L195.6 950.7ZM194.4 924.9L197.7 921.6L201.0 924.9L197.7 928.2ZM196.9 960.9L200.2 957.6L203.5 960.9L200.2 964.2ZM198.6 933.2L201.9 929.9L205.2 933.2L201.9 936.5ZM200.2 947.1L203.5 943.8L206.8 947.1L203.5 950.4ZM201.9 907.9L205.2 904.6L208.5 907.9L205.2 911.2ZM204.0 946.1L207.3 942.8L210.6 946.1L207.3 949.4ZM206.1 923.9L209.4 920.6L212.7 923.9L209.4 927.2ZM208.2 971.6L211.5 968.3L214.8 971.6L211.5 974.9ZM210.7 907.3L214.0 904.0L217.3 907.3L214.0 910.6ZM212.0 945.4L215.3 942.1L218.6 945.4L215.3 948.7ZM213.2 922.9L216.5 919.6L219.8 922.9L216.5 926.2ZM214.5 949.5L217.8 946.2L221.1 949.5L217.8 952.8ZM216.0 927.2L219.3 923.9L222.6 927.2L219.3 930.5ZM217.4 937.7L220.7 934.4L224.0 937.7L220.7 941.0ZM218.9 916.7L222.2 913.4L225.5 916.7L222.2 920.0ZM220.2 948.9L223.5 945.6L226.8 948.9L223.5 952.2ZM222.6 915.1L225.9 911.8L229.2 915.1L225.9 918.4ZM225.1 927.2L228.4 923.9L231.7 927.2L228.4 930.5ZM227.5 877.3L230.8 874.0L234.1 877.3L230.8 880.6ZM228.4 950.2L231.7 946.9L235.0 950.2L231.7 953.5ZM229.3 906.9L232.6 903.6L235.9 906.9L232.6 910.2ZM230.3 928.3L233.6 925.0L236.9 928.3L233.6 931.6ZM231.2 914.3L234.6 911.0L237.9 914.3L234.6 917.6ZM232.2 940.7L235.5 937.4L238.8 940.7L235.5 944.0ZM234.1 907.3L237.4 904.0L240.7 907.3L237.4 910.6ZM235.8 931.0L239.1 927.7L242.4 931.0L239.1 934.3ZM237.4 916.0L240.7 912.7L244.0 916.0L240.7 919.3ZM239.1 955.2L242.4 951.9L245.7 955.2L242.4 958.5ZM241.4 914.3L244.7 911.0L248.0 914.3L244.7 917.6ZM243.8 926.5L247.1 923.2L250.4 926.5L247.1 929.8ZM246.1 884.0L249.4 880.7L252.7 884.0L249.4 887.3ZM248.2 940.0L251.5 936.7L254.8 940.0L251.5 943.3ZM252.0 828.3L255.3 825.0L258.6 828.3L255.3 831.6ZM254.0 897.2L257.3 893.9L260.6 897.2L257.3 900.5ZM256.0 879.8L259.3 876.5L262.6 879.8L259.3 883.1ZM258.0 913.8L261.3 910.5L264.6 913.8L261.3 917.1ZM260.0 878.8L263.3 875.5L266.6 878.8L263.3 882.1ZM261.1 923.3L264.4 920.0L267.7 923.3L264.4 926.6ZM263.0 895.8L266.3 892.5L269.6 895.8L266.3 899.1ZM265.0 917.0L268.3 913.7L271.6 917.0L268.3 920.3ZM266.9 871.0L270.2 867.7L273.5 871.0L270.2 874.3ZM270.7 930.5L274.0 927.2L277.3 930.5L274.0 933.8ZM273.2 828.9L276.5 825.6L279.8 828.9L276.5 832.2ZM277.0 924.8L280.3 921.5L283.6 924.8L280.3 928.1ZM279.5 880.6L282.8 877.3L286.1 880.6L282.8 883.9ZM283.9 915.3L287.2 912.0L290.5 915.3L287.2 918.6ZM287.7 856.0L291.0 852.7L294.3 856.0L291.0 859.3ZM289.9 904.9L293.2 901.6L296.5 904.9L293.2 908.2ZM292.1 839.6L295.4 836.3L298.7 839.6L295.4 842.9ZM292.8 929.2L296.1 925.9L299.4 929.2L296.1 932.5ZM295.7 835.9L299.0 832.6L302.3 835.9L299.0 839.2ZM297.4 891.3L300.7 888.0L304.0 891.3L300.7 894.6ZM299.1 854.1L302.4 850.8L305.7 854.1L302.4 857.4ZM300.3 908.4L303.6 905.1L306.9 908.4L303.6 911.7ZM302.1 866.7L305.4 863.4L308.7 866.7L305.4 870.0ZM303.8 899.1L307.1 895.8L310.4 899.1L307.1 902.4ZM305.6 868.6L308.9 865.3L312.2 868.6L308.9 871.9ZM307.3 921.0L310.6 917.7L313.9 921.0L310.6 924.3ZM310.4 864.2L313.7 860.9L317.0 864.2L313.7 867.5ZM311.1 945.6L314.4 942.3L317.7 945.6L314.4 948.9ZM314.8 864.2L318.1 860.9L321.4 864.2L318.1 867.5ZM318.6 895.8L321.9 892.5L325.2 895.8L321.9 899.1ZM319.6 846.6L322.9 843.3L326.2 846.6L322.9 849.9ZM321.6 889.2L324.9 885.9L328.2 889.2L324.9 892.5ZM323.7 864.2L327.0 860.9L330.3 864.2L327.0 867.5ZM326.4 921.0L329.7 917.7L333.0 921.0L329.7 924.3ZM327.8 878.0L331.1 874.7L334.4 878.0L331.1 881.3ZM329.2 897.0L332.5 893.7L335.8 897.0L332.5 900.3ZM330.7 874.5L334.0 871.2L337.3 874.5L334.0 877.8ZM332.1 911.0L335.4 907.7L338.7 911.0L335.4 914.3ZM332.5 846.3L335.8 843.0L339.1 846.3L335.8 849.6ZM337.4 883.9L340.7 880.6L344.0 883.9L340.7 887.2ZM340.3 844.0L343.6 840.7L346.9 844.0L343.6 847.3ZM341.8 892.2L345.1 888.9L348.4 892.2L345.1 895.5ZM343.3 822.7L346.6 819.4L349.9 822.7L346.6 826.0ZM344.3 924.2L347.6 920.9L350.9 924.2L347.6 927.5ZM348.1 885.8L351.4 882.5L354.7 885.8L351.4 889.1ZM350.2 957.0L353.5 953.7L356.8 957.0L353.5 960.3ZM352.0 889.9L355.3 886.6L358.6 889.9L355.3 893.2ZM353.8 928.0L357.1 924.7L360.4 928.0L357.1 931.3ZM355.7 842.2L359.0 838.9L362.3 842.2L359.0 845.5ZM359.4 882.6L362.7 879.3L366.0 882.6L362.7 885.9ZM360.7 850.4L364.0 847.1L367.3 850.4L364.0 853.7ZM365.7 882.0L369.0 878.7L372.3 882.0L369.0 885.3ZM367.6 853.0L370.9 849.7L374.2 853.0L370.9 856.3ZM369.5 874.5L372.8 871.2L376.1 874.5L372.8 877.8ZM371.4 837.2L374.7 833.9L378.0 837.2L374.7 840.5ZM373.9 894.0L377.2 890.7L380.5 894.0L377.2 897.3ZM375.8 876.9L379.1 873.6L382.4 876.9L379.1 880.2ZM378.4 907.2L381.7 903.9L385.0 907.2L381.7 910.5ZM382.8 860.5L386.1 857.2L389.4 860.5L386.1 863.8ZM384.7 885.8L388.0 882.5L391.3 885.8L388.0 889.1ZM388.1 826.5L391.4 823.2L394.7 826.5L391.4 829.8ZM390.1 870.0L393.4 866.7L396.8 870.0L393.4 873.3ZM392.2 845.4L395.5 842.1L398.8 845.4L395.5 848.7ZM394.1 883.9L397.4 880.6L400.7 883.9L397.4 887.2ZM396.4 837.8L399.7 834.5L403.0 837.8L399.7 841.1ZM398.5 875.7L401.8 872.4L405.1 875.7L401.8 879.0ZM401.1 851.1L404.4 847.8L407.7 851.1L404.4 854.4ZM403.0 881.6L406.3 878.3L409.6 881.6L406.3 884.9ZM404.8 868.2L408.1 864.9L411.4 868.2L408.1 871.5ZM406.7 907.8L410.0 904.5L413.3 907.8L410.0 911.1ZM408.4 846.7L411.7 843.4L415.0 846.7L411.7 850.0ZM410.4 875.7L413.7 872.4L417.0 875.7L413.7 879.0ZM412.4 855.5L415.7 852.2L419.0 855.5L415.7 858.8ZM414.3 876.3L417.6 873.0L420.9 876.3L417.6 879.6ZM418.7 844.8L422.0 841.5L425.3 844.8L422.0 848.1ZM420.7 881.5L424.0 878.2L427.3 881.5L424.0 884.8ZM422.7 820.2L426.0 816.9L429.3 820.2L426.0 823.5ZM424.1 912.3L427.4 909.0L430.7 912.3L427.4 915.6ZM427.0 846.0L430.3 842.7L433.6 846.0L430.3 849.3ZM431.7 900.5L435.0 897.2L438.3 900.5L435.0 903.8ZM433.4 850.1L436.7 846.8L440.0 850.1L436.7 853.4ZM435.6 875.4L438.9 872.1L442.2 875.4L438.9 878.7ZM437.8 846.6L441.1 843.3L444.4 846.6L441.1 849.9ZM440.4 873.8L443.7 870.5L447.0 873.8L443.7 877.1ZM442.7 822.0L446.0 818.7L449.3 822.0L446.0 825.3ZM444.8 858.0L448.1 854.7L451.4 858.0L448.1 861.3ZM447.1 811.4L450.4 808.1L453.7 811.4L450.4 814.7ZM448.3 916.0L451.6 912.7L454.9 916.0L451.6 919.3ZM452.7 941.5L456.0 938.2L459.3 941.5L456.0 944.8ZM454.1 963.4L457.4 960.1L460.7 963.4L457.4 966.7ZM457.1 948.5L460.4 945.2L463.7 948.5L460.4 951.8ZM460.3 982.8L463.6 979.5L466.9 982.8L463.6 986.1ZM464.2 959.9L467.5 956.6L470.8 959.9L467.5 963.2ZM467.7 986.3L471.0 983.0L474.3 986.3L471.0 989.6ZM471.2 950.3L474.5 947.0L477.8 950.3L474.5 953.6ZM472.6 996.0L475.9 992.7L479.2 996.0L475.9 999.3ZM475.6 964.3L478.9 961.0L482.2 964.3L478.9 967.6ZM477.3 977.5L480.6 974.2L483.9 977.5L480.6 980.8ZM481.3 949.8L484.6 946.5L487.9 949.8L484.6 953.1ZM482.7 986.0L486.0 982.7L489.3 986.0L486.0 989.3ZM485.5 966.5L488.8 963.2L492.1 966.5L488.8 969.8ZM489.1 983.3L492.4 980.0L495.7 983.3L492.4 986.6ZM495.0 987.3L498.3 984.0L501.6 987.3L498.3 990.6ZM500.2 953.3L503.5 950.0L506.8 953.3L503.5 956.6ZM504.9 906.1L508.2 902.8L511.5 906.1L508.2 909.4ZM511.1 898.5L514.4 895.2L517.7 898.5L514.4 901.8ZM517.0 919.7L520.3 916.4L523.6 919.7L520.3 923.0ZM522.6 897.7L525.9 894.4L529.2 897.7L525.9 901.0ZM527.9 958.9L531.2 955.6L534.5 958.9L531.2 962.2ZM534.1 955.9L537.4 952.6L540.7 955.9L537.4 959.2ZM539.9 940.4L543.2 937.1L546.5 940.4L543.2 943.7ZM551.7 997.4L555.0 994.1L558.3 997.4L555.0 1000.7ZM557.0 993.0L560.3 989.7L563.6 993.0L560.3 996.3ZM563.2 989.1L566.5 985.8L569.8 989.1L566.5 992.4ZM569.9 995.6L573.2 992.3L576.5 995.6L573.2 998.9ZM576.5 985.1L579.8 981.8L583.1 985.1L579.8 988.4ZM582.6 977.1L585.9 973.8L589.2 977.1L585.9 980.4ZM589.7 980.6L593.0 977.3L596.3 980.6L593.0 983.9ZM595.9 990.3L599.2 987.0L602.5 990.3L599.2 993.6ZM602.4 1000.9L605.7 997.6L609.0 1000.9L605.7 1004.2ZM608.8 1012.5L612.1 1009.2L615.4 1012.5L612.1 1015.8ZM615.5 989.8L618.8 986.5L622.1 989.8L618.8 993.1ZM621.3 1011.5L624.6 1008.2L627.9 1011.5L624.6 1014.8ZM628.7 1018.0L632.0 1014.7L635.3 1018.0L632.0 1021.3ZM636.0 1011.0L639.3 1007.7L642.6 1011.0L639.3 1014.3ZM642.9 1023.4L646.2 1020.1L649.5 1023.4L646.2 1026.7ZM650.0 1013.1L653.3 1009.8L656.6 1013.1L653.3 1016.4ZM657.0 1013.1L660.3 1009.8L663.6 1013.1L660.3 1016.4ZM664.2 1011.5L667.5 1008.2L670.8 1011.5L667.5 1014.8ZM671.3 1002.5L674.6 999.2L677.9 1002.5L674.6 1005.8ZM675.4 1009.8L678.7 1006.5L682.0 1009.8L678.7 1013.1ZM677.8 1022.1L681.1 1018.8L684.4 1022.1L681.1 1025.4ZM678.7 1008.2L682.0 1004.9L685.3 1008.2L682.0 1011.5ZM681.1 1011.5L684.4 1008.2L687.7 1011.5L684.4 1014.8ZM683.6 1029.5L686.9 1026.2L690.2 1029.5L686.9 1032.8ZM686.0 1027.0L689.3 1023.7L692.6 1027.0L689.3 1030.3ZM688.5 1013.1L691.8 1009.8L695.1 1013.1L691.8 1016.4ZM691.5 1009.8L694.8 1006.5L698.1 1009.8L694.8 1013.1ZM694.2 1018.9L697.5 1015.6L700.8 1018.9L697.5 1022.2ZM697.0 1004.9L700.3 1001.6L703.6 1004.9L700.3 1008.2ZM700.0 1010.7L703.3 1007.4L706.6 1010.7L703.3 1014.0ZM704.1 1015.6L707.4 1012.3L710.7 1015.6L707.4 1018.9ZM709.0 1023.4L712.3 1020.1L715.6 1023.4L712.3 1026.7ZM711.5 1011.5L714.8 1008.2L718.1 1011.5L714.8 1014.8ZM715.6 1002.5L718.9 999.2L722.2 1002.5L718.9 1005.8Z" fill="#2c2e83"/>
<path d="M95.4 121.9H719" stroke="#454f9e" stroke-width="3.3" stroke-dasharray="14 5.65" fill="none"/>
<text transform="translate(579.60 112.70) rotate(0.03) scale(0.1970)" font-size="100" stroke-width="1.78" textLength="706.6" lengthAdjust="spacingAndGlyphs" style="fill:#454f9e;stroke:#454f9e">BEG sill (287 m)</text>
<path d="M183.7 98.0H199.1" stroke="#c62515" stroke-width="3.7" fill="none"/>
<rect x="183.7" y="94.7" width="3.5" height="6.6" fill="#c62515"/>
<rect x="195.6" y="94.7" width="3.5" height="6.6" fill="#c62515"/>
<path d="M193.2 131.6H208.2" stroke="#c62515" stroke-width="3.7" fill="none"/>
<rect x="193.2" y="128.3" width="3.5" height="6.6" fill="#c62515"/>
<rect x="204.7" y="128.3" width="3.5" height="6.6" fill="#c62515"/>
<path d="M203.3 137.0H230.6" stroke="#c62515" stroke-width="3.7" fill="none"/>
<rect x="203.3" y="133.7" width="3.5" height="6.6" fill="#c62515"/>
<rect x="227.1" y="133.7" width="3.5" height="6.6" fill="#c62515"/>
<path d="M230.9 161.8H252.0" stroke="#c62515" stroke-width="3.7" fill="none"/>
<rect x="230.9" y="158.5" width="3.5" height="6.6" fill="#c62515"/>
<rect x="248.5" y="158.5" width="3.5" height="6.6" fill="#c62515"/>
<path d="M235.8 235.4H248.4" stroke="#c62515" stroke-width="3.7" fill="none"/>
<rect x="235.8" y="232.1" width="3.5" height="6.6" fill="#c62515"/>
<rect x="244.9" y="232.1" width="3.5" height="6.6" fill="#c62515"/>
<path d="M262.3 30.3H283.9" stroke="#c62515" stroke-width="3.7" fill="none"/>
<rect x="262.3" y="27.0" width="3.5" height="6.6" fill="#c62515"/>
<rect x="280.4" y="27.0" width="3.5" height="6.6" fill="#c62515"/>
<path d="M248.2 49.7H265.9" stroke="#c62515" stroke-width="3.7" fill="none"/>
<rect x="248.2" y="46.4" width="3.5" height="6.6" fill="#c62515"/>
<rect x="262.4" y="46.4" width="3.5" height="6.6" fill="#c62515"/>
<path d="M286.9 64.2H315.3" stroke="#c62515" stroke-width="3.7" fill="none"/>
<rect x="286.9" y="60.9" width="3.5" height="6.6" fill="#c62515"/>
<rect x="311.8" y="60.9" width="3.5" height="6.6" fill="#c62515"/>
<path d="M271.1 85.6H293.0" stroke="#c62515" stroke-width="3.7" fill="none"/>
<rect x="271.1" y="82.3" width="3.5" height="6.6" fill="#c62515"/>
<rect x="289.5" y="82.3" width="3.5" height="6.6" fill="#c62515"/>
<path d="M424.7 46.5H484.6" stroke="#c62515" stroke-width="3.7" fill="none"/>
<rect x="424.7" y="43.2" width="3.5" height="6.6" fill="#c62515"/>
<rect x="481.1" y="43.2" width="3.5" height="6.6" fill="#c62515"/>
<path d="M507.2 295.4H620.9" stroke="#c62515" stroke-width="3.7" fill="none"/>
<rect x="507.2" y="292.1" width="3.5" height="6.6" fill="#c62515"/>
<rect x="617.4" y="292.1" width="3.5" height="6.6" fill="#c62515"/>
<path d="M562.7 311.2H691.1" stroke="#c62515" stroke-width="3.7" fill="none"/>
<rect x="562.7" y="307.9" width="3.5" height="6.6" fill="#c62515"/>
<rect x="687.6" y="307.9" width="3.5" height="6.6" fill="#c62515"/>
<path d="M507.2 316.8H620.9" stroke="#c62515" stroke-width="3.7" fill="none"/>
<rect x="507.2" y="313.5" width="3.5" height="6.6" fill="#c62515"/>
<rect x="617.4" y="313.5" width="3.5" height="6.6" fill="#c62515"/>
<path d="M174.3 109.5H202.2" stroke="#454f9e" stroke-width="3.8" fill="none"/>
<rect x="174.3" y="106.2" width="3.5" height="6.6" fill="#454f9e"/>
<rect x="198.7" y="106.2" width="3.5" height="6.6" fill="#454f9e"/>
<path d="M246.3 40.8H290.0" stroke="#454f9e" stroke-width="3.8" fill="none"/>
<rect x="246.3" y="37.5" width="3.5" height="6.6" fill="#454f9e"/>
<path d="M258.0 37.6H318.2" stroke="#454f9e" stroke-width="3.8" fill="none"/>
<rect x="314.7" y="34.3" width="3.5" height="6.6" fill="#454f9e"/>
<path d="M324.7 36.0H371.0" stroke="#454f9e" stroke-width="3.8" fill="none"/>
<rect x="324.7" y="32.7" width="3.5" height="6.6" fill="#454f9e"/>
<rect x="367.5" y="32.7" width="3.5" height="6.6" fill="#454f9e"/>
<path d="M331.0 32.2H462.6" stroke="#454f9e" stroke-width="3.8" fill="none"/>
<rect x="331.0" y="28.9" width="3.5" height="6.6" fill="#454f9e"/>
<rect x="459.1" y="28.9" width="3.5" height="6.6" fill="#454f9e"/>
<path d="M340.6 44.7H387.0" stroke="#454f9e" stroke-width="3.8" fill="none"/>
<rect x="340.6" y="41.4" width="3.5" height="6.6" fill="#454f9e"/>
<rect x="383.5" y="41.4" width="3.5" height="6.6" fill="#454f9e"/>
<path d="M360.4 32.2H410.9" stroke="#454f9e" stroke-width="3.8" fill="none"/>
<rect x="360.4" y="28.9" width="3.5" height="6.6" fill="#454f9e"/>
<rect x="407.4" y="28.9" width="3.5" height="6.6" fill="#454f9e"/>
<path d="M369.5 32.2H445.2" stroke="#454f9e" stroke-width="3.8" fill="none"/>
<rect x="369.5" y="28.9" width="3.5" height="6.6" fill="#454f9e"/>
<rect x="441.7" y="28.9" width="3.5" height="6.6" fill="#454f9e"/>
<path d="M525.3 135.0H641.8" stroke="#454f9e" stroke-width="3.3" fill="none"/>
<rect x="638.8" y="132.1" width="3.0" height="5.8" fill="#454f9e"/>
<path d="M546.5 136.8H618.9" stroke="#454f9e" stroke-width="3.3" fill="none"/>
<rect x="546.5" y="133.9" width="3.0" height="5.8" fill="#454f9e"/>
<rect x="615.9" y="133.9" width="3.0" height="5.8" fill="#454f9e"/>
<path d="M600.0 137.4H750.3" stroke="#454f9e" stroke-width="3.3" fill="none"/>
<rect x="747.3" y="134.5" width="3.0" height="5.8" fill="#454f9e"/>
<path d="M670.0 137.4H761.6" stroke="#454f9e" stroke-width="3.3" fill="none"/>
<rect x="670.0" y="134.5" width="3.0" height="5.8" fill="#454f9e"/>
<rect x="758.6" y="134.5" width="3.0" height="5.8" fill="#454f9e"/>
<circle cx="125.3" cy="323.7" r="5.9" fill="#c62515"/>
<circle cx="169.4" cy="304.2" r="5.9" fill="#c62515"/>
<circle cx="273" cy="30.3" r="5.9" fill="#c62515"/>
<circle cx="257" cy="49.7" r="5.9" fill="#c62515"/>
<circle cx="301.4" cy="64.2" r="5.9" fill="#c62515"/>
<circle cx="282.1" cy="85.6" r="5.9" fill="#c62515"/>
<circle cx="454.6" cy="46.5" r="5.9" fill="#c62515"/>
<rect x="174.3" y="105.2" width="10.8" height="10.8" rx="2" fill="#454f9e"/>
<rect x="180.6" y="103.0" width="11.4" height="11.4" rx="2" fill="#454f9e"/>
<rect x="185.8" y="102.7" width="11.4" height="11.4" rx="2" fill="#454f9e"/>
<rect x="191.1" y="103.0" width="11.2" height="11.2" rx="2" fill="#454f9e"/>
<rect x="257.5" y="34.7" width="11.8" height="11.8" rx="2" fill="#454f9e"/>
<rect x="263.6" y="34.7" width="11.8" height="11.8" rx="2" fill="#454f9e"/>
<rect x="269.6" y="34.5" width="11.8" height="11.8" rx="2" fill="#454f9e"/>
<rect x="276.1" y="33.3" width="11.8" height="11.8" rx="2" fill="#454f9e"/>
<rect x="292.2" y="31.9" width="11.4" height="11.4" rx="2" fill="#454f9e"/>
<rect x="345.1" y="26.1" width="11.9" height="11.9" rx="2" fill="#454f9e"/>
<rect x="342.9" y="30.6" width="11.2" height="11.2" rx="2" fill="#454f9e"/>
<rect x="358.0" y="38.6" width="12" height="12" rx="2" fill="#454f9e"/>
<rect x="383.1" y="26.3" width="11.9" height="11.9" rx="2" fill="#454f9e"/>
<rect x="414.1" y="26.1" width="11.8" height="11.8" rx="2" fill="#454f9e"/>
<rect x="430.0" y="26.1" width="11.8" height="11.8" rx="2" fill="#454f9e"/>
<rect x="514.2" y="110.2" width="11.5" height="11.5" rx="2" fill="#454f9e"/>
<rect x="579.0" y="130.8" width="8.4" height="8.4" fill="#fff" stroke="#454f9e" stroke-width="2.2"/>
<rect x="604.1" y="132.6" width="8.4" height="8.4" fill="#fff" stroke="#454f9e" stroke-width="2.2"/>
<rect x="675.5" y="133.2" width="8.4" height="8.4" fill="#fff" stroke="#454f9e" stroke-width="2.2"/>
<rect x="685.7" y="133.2" width="8.4" height="8.4" fill="#fff" stroke="#454f9e" stroke-width="2.2"/>
<circle cx="191.3" cy="98" r="4.2" fill="#fff" stroke="#c62515" stroke-width="2.5"/>
<circle cx="200.6" cy="131.6" r="4.2" fill="#fff" stroke="#c62515" stroke-width="2.5"/>
<circle cx="216.3" cy="137" r="4.2" fill="#fff" stroke="#c62515" stroke-width="2.5"/>
<circle cx="241.5" cy="161.8" r="4.2" fill="#fff" stroke="#c62515" stroke-width="2.5"/>
<circle cx="241.3" cy="235.4" r="4.2" fill="#fff" stroke="#c62515" stroke-width="2.5"/>
<circle cx="564.4" cy="295.4" r="4.2" fill="#fff" stroke="#c62515" stroke-width="2.5"/>
<circle cx="626.8" cy="311.2" r="4.2" fill="#fff" stroke="#c62515" stroke-width="2.5"/>
<circle cx="564.4" cy="316.8" r="4.2" fill="#fff" stroke="#c62515" stroke-width="2.5"/>
<path d="M104.4 323L125.3 323.6" stroke="#000" stroke-width="3.7" fill="none"/>
<path d="M125.3 323.6L136.7 318.6" stroke="#000" stroke-width="3.7" fill="none"/>
<path d="M147.5 312.8L163 306" stroke="#000" stroke-width="3.7" fill="none"/>
<path d="M169.4 296L170.7 282" stroke="#000" stroke-width="3.7" fill="none"/>
<path d="M170.7 268L172 251.8" stroke="#000" stroke-width="3.7" fill="none"/>
<path d="M172.2 239L173.2 222.8" stroke="#000" stroke-width="3.7" fill="none"/>
<path d="M173.5 210L174.7 196" stroke="#000" stroke-width="3.7" fill="none"/>
<path d="M175 182.3L176.5 166.4" stroke="#000" stroke-width="3.7" fill="none"/>
<path d="M176.9 152.8L178.1 138.1" stroke="#000" stroke-width="3.7" fill="none"/>
<path d="M178.5 124L179.7 109.7" stroke="#000" stroke-width="3.7" fill="none"/>
<path d="M194.3 111.2L195.9 115.4" stroke="#000" stroke-width="3.7" fill="none"/>
<path d="M198.1 130.6L203 148.3" stroke="#000" stroke-width="3.7" fill="none"/>
<path d="M206.7 164.2L212 182.3" stroke="#000" stroke-width="3.7" fill="none"/>
<path d="M216.6 196.7L223.7 215.2" stroke="#000" stroke-width="3.7" fill="none"/>
<path d="M228.7 229Q233 238 240 245" stroke="#000" stroke-width="3.7" fill="none"/>
<path d="M247.6 234Q250 225 251.4 214" stroke="#000" stroke-width="3.7" fill="none"/>
<path d="M252.5 199.7L253 180.8" stroke="#000" stroke-width="3.7" fill="none"/>
<path d="M253.2 165.2L253.6 146.7" stroke="#000" stroke-width="3.7" fill="none"/>
<path d="M253.7 130.6L254 112.5" stroke="#000" stroke-width="3.7" fill="none"/>
<path d="M254.5 97L254.8 78" stroke="#000" stroke-width="3.7" fill="none"/>
<path d="M254.9 62.3L254.9 43.5" stroke="#000" stroke-width="3.7" fill="none"/>
<path d="M295.5 36.4L300.5 44" stroke="#000" stroke-width="3.7" fill="none"/>
<path d="M305.6 56L313.8 69.2" stroke="#000" stroke-width="3.7" fill="none"/>
<path d="M325.1 74.2Q331 69.5 335.9 62.6" stroke="#000" stroke-width="3.7" fill="none"/>
<path d="M341.5 50.3L347.2 36.4" stroke="#000" stroke-width="3.7" fill="none"/>
<path d="M388.8 31.4L391.7 37.7" stroke="#000" stroke-width="3.7" fill="none"/>
<path d="M393.5 50.9L398.8 66" stroke="#000" stroke-width="3.7" fill="none"/>
<path d="M406.4 74.2Q409.8 67 412 59.1" stroke="#000" stroke-width="3.7" fill="none"/>
<path d="M415.2 46.5L418.8 31.4" stroke="#000" stroke-width="3.7" fill="none"/>
<path d="M440.5 35L444 33" stroke="#000" stroke-width="3.7" fill="none"/>
<path d="M453.7 46.5L466.9 60.4" stroke="#000" stroke-width="3.7" fill="none"/>
<path d="M500.4 96.5L515 111.5" stroke="#000" stroke-width="3.7" fill="none"/>
<path d="M520.3 120.3L525.1 136.8" stroke="#000" stroke-width="3.7" fill="none"/>
<path d="M528.6 153L533 171.4" stroke="#000" stroke-width="3.7" fill="none"/>
<path d="M535.8 186.4L541.3 204.4" stroke="#000" stroke-width="3.7" fill="none"/>
<path d="M544.1 219.6L549.1 238.2" stroke="#000" stroke-width="3.7" fill="none"/>
<path d="M551.6 254.3L557.4 272.4" stroke="#000" stroke-width="3.7" fill="none"/>
<path d="M559.9 289L564.4 304.8" stroke="#000" stroke-width="3.7" fill="none"/>
<circle cx="125.3" cy="323.7" r="5.8" fill="#c62515"/>
<circle cx="169.4" cy="304.2" r="5.8" fill="#c62515"/>
<text transform="translate(318.80 99.30) rotate(0.03) scale(0.2340)" font-size="100" stroke-width="1.92" text-anchor="middle">?</text>
<text transform="translate(404.10 99.30) rotate(0.03) scale(0.2340)" font-size="100" stroke-width="1.92" text-anchor="middle">?</text>
<text transform="translate(485.90 87.00) rotate(0.03) scale(0.2340)" font-size="100" stroke-width="1.92" text-anchor="middle">?</text>
<rect x="273.9" y="204.7" width="12.2" height="12.2" rx="1.5" fill="#454f9e"/>
<circle cx="280.1" cy="236.8" r="6.2" fill="#c62515"/>
<text transform="translate(295.40 218.30) rotate(0.03) scale(0.1970)" font-size="100" stroke-width="1.78" textLength="737.6" lengthAdjust="spacingAndGlyphs">Chad Basin ages</text>
<text transform="translate(295.00 243.50) rotate(0.03) scale(0.1970)" font-size="100" stroke-width="1.78" textLength="807.1" lengthAdjust="spacingAndGlyphs">Bodélé Basin ages</text>
</svg></body></html>
